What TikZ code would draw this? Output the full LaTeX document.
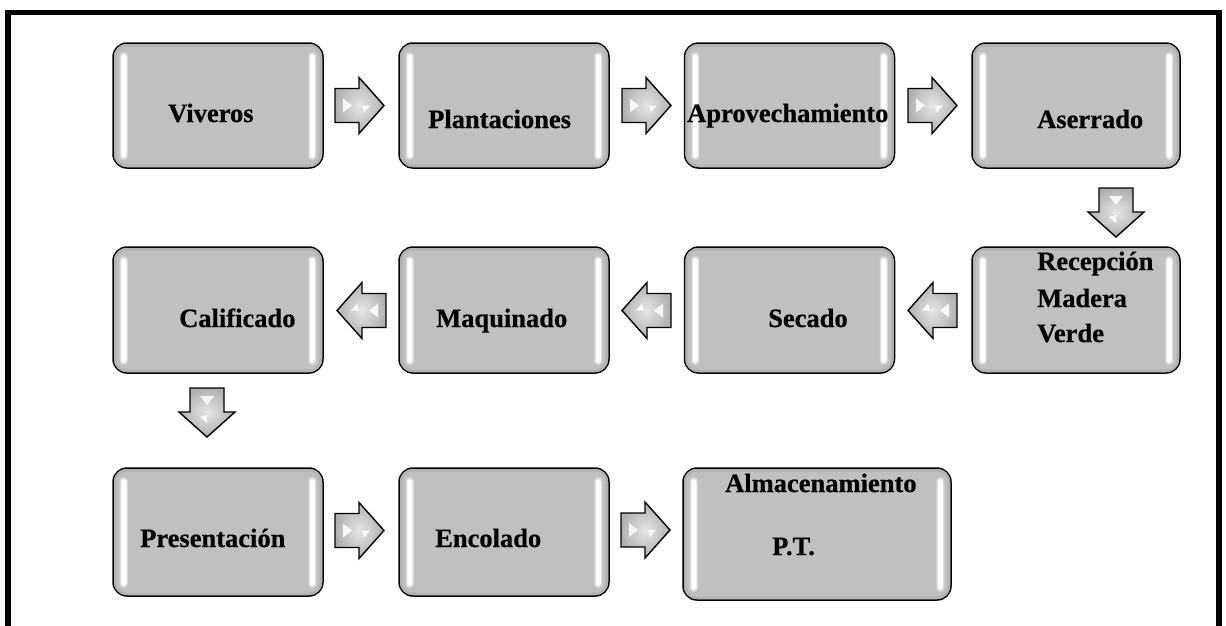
\documentclass[tikz,border=0pt]{standalone}
\usepackage{fontspec}
\setmainfont{Liberation Serif}
\newfontfamily\boxfont[FakeBold=0.6]{Liberation Serif Bold}
\usetikzlibrary{calc}
\definecolor{boxgray}{HTML}{C0C0C0}
\definecolor{rimgray}{HTML}{B2B2B2}
\tikzset{
  box/.style={draw=black, line width=1.5pt, rounded corners=14pt, fill=boxgray,
    inner sep=0pt, minimum width=210pt, minimum height=125pt},
  rim/.style={draw=rimgray, line width=2.5pt, rounded corners=11pt},
  hl/.style={fill=white, rounded corners=2.5pt},
  hlsoft/.style={fill=white, opacity=.45, rounded corners=3.5pt},
  txt/.style={anchor=base west, inner sep=0pt, font=\fontsize{26.5}{32}\boxfont},
  arrowbody/.style={draw=black, line width=1.4pt, line join=miter, inner color=gray!20, outer color=gray!62},
  shine/.style={fill=white, opacity=.85},
  frame/.style={draw=black, line width=5.5pt, line join=miter}
}
\newcommand\procbox[3]{% name, center, extra options
  \node[box,#3] (#1) at #2 {};
  \draw[rim] ([xshift=3pt,yshift=-3pt]#1.north west) rectangle ([xshift=-3pt,yshift=3pt]#1.south east);
  \fill[hlsoft] ([xshift=7.5pt,yshift=-10pt]#1.north west) rectangle ([xshift=15.5pt,yshift=9pt]#1.south west);
  \fill[hl] ([xshift=9pt,yshift=-12pt]#1.north west) rectangle ([xshift=14pt,yshift=11pt]#1.south west);
  \fill[hlsoft] ([xshift=-15.5pt,yshift=-10pt]#1.north east) rectangle ([xshift=-7.5pt,yshift=9pt]#1.south east);
  \fill[hl] ([xshift=-14pt,yshift=-12pt]#1.north east) rectangle ([xshift=-9pt,yshift=11pt]#1.south east);
}
\newcommand\blockarrow[3]{% name, head-base point, rotation
  \coordinate (#1) at #2;
  \begin{scope}[shift={(#1)}, rotate=#3]
    \draw[arrowbody] (-24,-17) -- (0,-17) -- (0,-28) -- (25,0) -- (0,28) -- (0,17) -- (-24,17) -- cycle;
    \fill[shine] (-16,7) -- (-7,0) -- (-16,-7) -- cycle;
    \fill[shine] (3,0) -- (11,0) -- (5,-7) -- cycle;
  \end{scope}
}
\begin{document}
\begin{tikzpicture}[x=1pt,y=1pt]
\useasboundingbox (0,0) rectangle (1226,-625);
\draw[frame] (8,-626) -- (8,-12.5) -- (1219,-12.5) -- (1219,-626);

% row 1
\procbox{viveros}{(218,-105.5)}{}
\procbox{plantaciones}{(504,-105.5)}{}
\procbox{aprovechamiento}{(789.5,-105.5)}{}
\procbox{aserrado}{(1076,-105.5)}{minimum width=208pt}
% row 2
\procbox{calificado}{(218,-310)}{minimum height=126pt}
\procbox{maquinado}{(504,-310)}{minimum height=126pt}
\procbox{secado}{(789.5,-310)}{minimum height=126pt}
\procbox{recepcion}{(1076,-310)}{minimum width=208pt, minimum height=126pt}
% row 3
\procbox{presentacion}{(218,-532)}{minimum height=128pt}
\procbox{encolado}{(504,-532)}{minimum height=128pt}
\procbox{almacenamiento}{(817,-534)}{minimum width=268pt, minimum height=132pt}

% texts
\node[txt] (tViveros) at (168,-122) {Viveros};
\node[txt] (tPlant) at (428,-128) {Plantaciones};
\node[txt] (tAprov) at (687,-122) {Aprovechamiento};
\node[txt] (tAserr) at (1037,-128) {Aserrado};
\node[txt] (tCalif) at (179,-327) {Calificado};
\node[txt] (tMaqui) at (436,-327) {Maquinado};
\node[txt] (tSecad) at (768,-327) {Secado};
\node[txt] (tRec1) at (1037,-270) {Recepción};
\node[txt] (tRec2) at (1037,-307) {Madera};
\node[txt] (tRec3) at (1037,-342) {Verde};
\node[txt] (tPres) at (140,-547) {Presentación};
\node[txt] (tEnco) at (435,-547) {Encolado};
\node[txt] (tAlm1) at (725,-492) {Almacenamiento};
\node[txt] (tAlm2) at (772,-555) {P.T.};

% arrows
\blockarrow{a1}{(359,-105.5)}{0}
\blockarrow{a2}{(646,-105.5)}{0}
\blockarrow{a3}{(932,-105.5)}{0}
\blockarrow{a4}{(1116,-212)}{-90}
\blockarrow{a5}{(933,-310.5)}{180}
\blockarrow{a6}{(647,-310.5)}{180}
\blockarrow{a7}{(362,-310.5)}{180}
\blockarrow{a8}{(207,-412)}{-90}
\blockarrow{a9}{(359,-530.5)}{0}
\blockarrow{a10}{(645,-530)}{0}
\end{tikzpicture}
\end{document}
